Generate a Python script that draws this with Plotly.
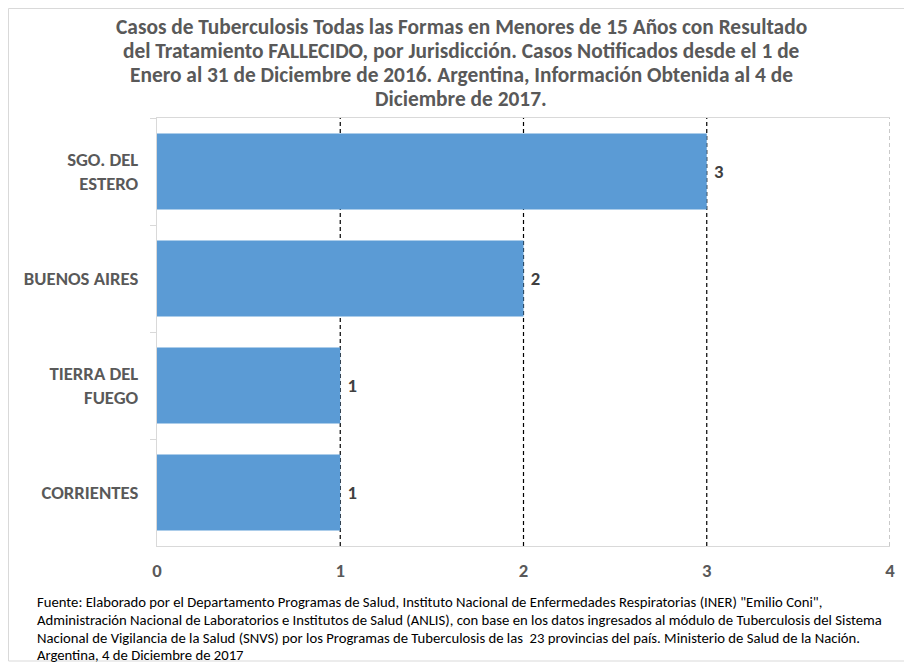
import plotly.graph_objects as go

categories = ["SGO. DEL<br>ESTERO", "BUENOS AIRES", "TIERRA DEL<br>FUEGO", "CORRIENTES"]
values = [3, 2, 1, 1]
x_ticks = [0, 1, 2, 3, 4]

title_lines = [
    "Casos de Tuberculosis Todas las Formas en Menores de 15 Años con Resultado",
    "del Tratamiento FALLECIDO, por Jurisdicción. Casos Notificados desde el 1 de",
    "Enero al 31 de Diciembre de 2016. Argentina, Información Obtenida al 4 de",
    "Diciembre de 2017.",
]
footer_lines = [
    "Fuente: Elaborado por el Departamento Programas de Salud, Instituto Nacional de Enfermedades Respiratorias (INER) \"Emilio Coni\",",
    "Administración Nacional de Laboratorios e Institutos de Salud (ANLIS), con base en los datos ingresados al módulo de Tuberculosis del Sistema",
    "Nacional de Vigilancia de la Salud (SNVS) por los Programas de Tuberculosis de las  23 provincias del país. Ministerio de Salud de la Nación.",
    "Argentina, 4 de Diciembre de 2017",
]

FONT = "Carlito, Liberation Sans Narrow, Open Sans, sans-serif"
OFF = 8  # page body margin
W, H = 912 - OFF, 664 - OFF
L = 157 - OFF
R = W - (890 - OFF)
T = 118 - OFF
B = H - (546 - OFF)
pw, ph = W - L - R, H - T - B


def px_x(x_ref):
    return (x_ref - OFF - L) / pw


def px_y(y_ref):
    return (H - B - (y_ref - OFF)) / ph


fig = go.Figure(go.Bar(
    y=categories, x=values, orientation="h",
    marker=dict(color="#5B9BD5", line=dict(width=0)),
    width=0.71,
    text=values, texttemplate=" %{x}", textposition="outside", cliponaxis=False,
    textfont=dict(family=FONT, size=18.7, color="#404040", weight="bold"),
))

shapes = []
for v in x_ticks[1:]:
    shapes.append(dict(type="line", xref="x", yref="paper", x0=v, x1=v, y0=0, y1=1,
                       line=dict(color="#000000" if v < x_ticks[-1] else "#A6A6A6", width=1.2, dash="4px,3px"),
                       layer="below"))
# outer frame
shapes.append(dict(type="rect", xref="paper", yref="paper",
                   x0=(0.5 - L) / pw, x1=px_x(908), y0=px_y(661), y1=(ph + T - 0.5) / ph,
                   line=dict(color="#D9D9D9", width=1), layer="below"))

annotations = []
title_y = [27, 51, 75, 99]
for line, yy in zip(title_lines, title_y):
    annotations.append(dict(text=line, xref="paper", yref="paper", x=px_x(461), y=px_y(yy),
                            xanchor="center", yanchor="middle", showarrow=False,
                            font=dict(family=FONT, size=21.4, color="#595959", weight="bold")))
footer_y = [602, 620, 638, 655]
for line, yy in zip(footer_lines, footer_y):
    annotations.append(dict(text=line, xref="paper", yref="paper", x=px_x(35), y=px_y(yy),
                            xanchor="left", yanchor="middle", showarrow=False,
                            font=dict(family=FONT, size=14.7, color="#000000")))

fig.update_layout(
    width=W, height=H,
    margin=dict(l=L, r=R, t=T, b=B),
    paper_bgcolor="white", plot_bgcolor="white",
    showlegend=False,
    xaxis=dict(range=[0, 4], tickvals=x_ticks, showgrid=False, zeroline=False,
               showline=True, linecolor="#D9D9D9", linewidth=1, mirror=True,
               ticks="", ticklabelstandoff=8,
               tickfont=dict(family=FONT, size=18.7, color="#595959", weight="bold")),
    yaxis=dict(autorange="reversed", showgrid=False, zeroline=False,
               showline=True, linecolor="#D9D9D9", linewidth=1,
               ticks="outside", ticklen=6, tickcolor="#D9D9D9", tickson="boundaries",
               ticklabelstandoff=14,
               tickfont=dict(family=FONT, size=18.7, color="#595959", weight="bold")),
    shapes=shapes,
    annotations=annotations,
)

fig.write_html("out.html")
